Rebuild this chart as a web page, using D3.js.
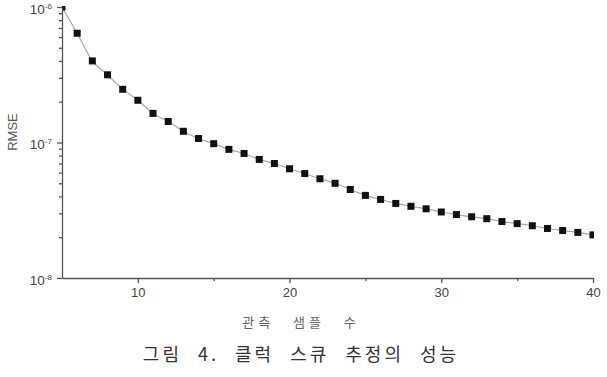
<!DOCTYPE html>
<html>
<head>
<meta charset="utf-8">
<script src="https://cdn.jsdelivr.net/npm/d3@7"></script>
<style>
  body { margin: 0; background: #fff; }
  svg { display: block; font-family: "Liberation Sans", Arial, sans-serif; }
</style>
</head>
<body>
<svg width="607" height="377"></svg>
<script>
var samples = [5, 6, 7, 8, 9, 10, 11, 12, 13, 14, 15, 16, 17, 18, 19, 20, 21, 22,
               23, 24, 25, 26, 27, 28, 29, 30, 31, 32, 33, 34, 35, 36, 37, 38, 39, 40];
var rmse = [1.0e-6, 6.4e-7, 4.0e-7, 3.16e-7, 2.47e-7, 2.05e-7, 1.64e-7, 1.43e-7, 1.21e-7,
            1.07e-7, 9.8e-8, 8.9e-8, 8.3e-8, 7.5e-8, 7.0e-8, 6.4e-8, 5.9e-8, 5.4e-8,
            5.0e-8, 4.5e-8, 4.07e-8, 3.8e-8, 3.55e-8, 3.38e-8, 3.24e-8, 3.07e-8, 2.94e-8,
            2.83e-8, 2.74e-8, 2.61e-8, 2.52e-8, 2.43e-8, 2.32e-8, 2.24e-8, 2.17e-8, 2.08e-8];
var xTicks = [10, 20, 30, 40];
var xMinor = [15, 25, 35];
var yMajor = [1e-8, 1e-7, 1e-6];
var yExp = ["-8", "-7", "-6"];

var svg = d3.select("svg");
var pLeft = 62, pTop = 7, pRight = 593, pBottom = 278;

var x = d3.scaleLinear().domain([5, 40]).range([pLeft, pRight]);
var y = d3.scaleLog().domain([1e-8, 1e-6]).range([pBottom, pTop]);

var yMinor = [];
[1e-8, 1e-7].forEach(function (d) {
    for (var k = 2; k <= 9; k++) yMinor.push(d * k);
});

var axisColor = "#555";

svg.append("clipPath").attr("id", "plot")
    .append("rect")
    .attr("x", pLeft).attr("y", pTop - 1)
    .attr("width", pRight - pLeft + 1).attr("height", pBottom - pTop + 1);

// data line and markers
var line = d3.line()
    .x(function (d, i) { return x(samples[i]); })
    .y(function (d) { return y(d); })
    .curve(d3.curveMonotoneX);

var g = svg.append("g").attr("clip-path", "url(#plot)");
g.append("path")
    .datum(rmse)
    .attr("d", line)
    .attr("fill", "none")
    .attr("stroke", "#aaa")
    .attr("stroke-width", 1.2);

g.selectAll("rect.pt")
    .data(rmse)
    .enter()
    .append("rect")
    .attr("class", "pt")
    .attr("x", function (d, i) { return x(samples[i]) - 3.5; })
    .attr("y", function (d) { return y(d) - 3.5; })
    .attr("width", 7)
    .attr("height", 7)
    .attr("fill", "#111");

// y axis
svg.append("g").attr("class", "ax").attr("transform", "translate(" + pLeft + ",0)")
    .call(d3.axisLeft(y).tickValues(yMinor).tickSize(3).tickFormat(""))
    .call(function (a) { a.select(".domain").remove(); });
var yMaj = svg.append("g").attr("class", "ax").attr("transform", "translate(" + pLeft + ",0)")
    .call(d3.axisLeft(y).tickValues(yMajor).tickSize(5).tickSizeOuter(0).tickFormat(""));

yMaj.selectAll(".tick").each(function (d, i) {
    var t = d3.select(this).append("text")
        .attr("x", -10).attr("dy", "0.45em")
        .attr("text-anchor", "end")
        .attr("fill", "#444")
        .style("font-size", "13.5px");
    t.append("tspan").text("10");
    t.append("tspan").attr("dy", "-0.6em").style("font-size", "8px").text(yExp[i]);
});

// x axis
var xAxis = svg.append("g").attr("class", "ax").attr("transform", "translate(0," + pBottom + ")")
    .call(d3.axisBottom(x).tickValues(xTicks).tickSize(5).tickSizeOuter(0).tickFormat(d3.format("d")));
svg.append("g").attr("class", "ax").attr("transform", "translate(0," + pBottom + ")")
    .call(d3.axisBottom(x).tickValues(xMinor).tickSize(3).tickFormat(""))
    .call(function (a) { a.select(".domain").remove(); });
xAxis.selectAll("text")
    .attr("fill", "#444")
    .attr("y", 10)
    .style("font-size", "13px")
    .style("font-family", "'Liberation Sans', Arial, sans-serif");

svg.selectAll(".ax path, .ax line")
    .attr("stroke", axisColor).attr("stroke-width", 1.3);

// axis titles
svg.append("text")
    .attr("transform", "translate(17,132) rotate(-90)")
    .attr("text-anchor", "middle")
    .attr("fill", "#555")
    .style("font-size", "13px")
    .text("RMSE");

svg.append("text")
    .attr("x", 301).attr("y", 327)
    .attr("text-anchor", "middle")
    .attr("fill", "#666")
    .style("font-family", "'Noto Sans CJK KR', sans-serif")
    .style("font-size", "13px")
    .style("letter-spacing", "4px")
    .style("word-spacing", "12px")
    .text("관측 샘플 수");

svg.append("text")
    .attr("x", 301).attr("y", 361)
    .attr("text-anchor", "middle")
    .attr("fill", "#333")
    .style("font-family", "'Noto Sans CJK KR', sans-serif")
    .style("font-size", "18px")
    .style("letter-spacing", "3px")
    .style("word-spacing", "9px")
    .text("그림 4. 클럭 스큐 추정의 성능");
</script>
</body>
</html>
